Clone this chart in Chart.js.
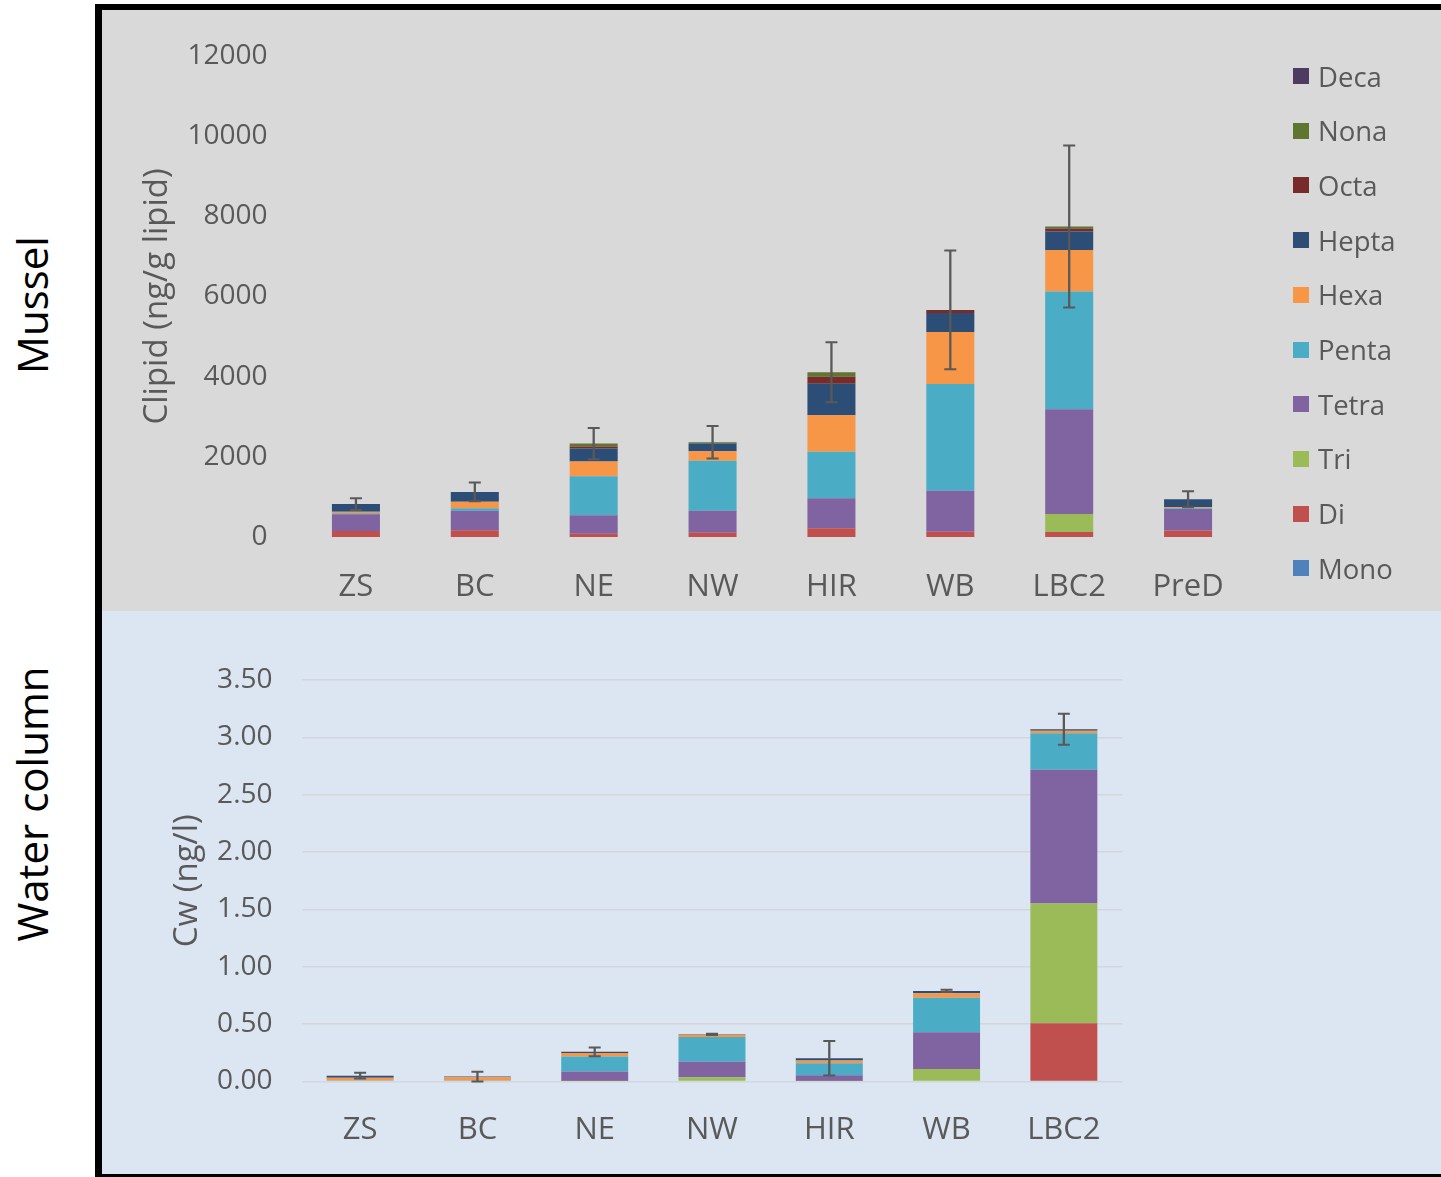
<!DOCTYPE html>
<html>
<head>
<meta charset="utf-8">
<title>PCB homologue profiles – mussel and water column</title>
<script src="https://cdn.jsdelivr.net/npm/chart.js@4.4.1/dist/chart.umd.min.js"></script>
<style>
  html, body { margin: 0; padding: 0; background: #ffffff; }
  body { width: 1441px; height: 1177px; position: relative; overflow: hidden; font-family: "Open Sans", sans-serif; }
  #frame { position: absolute; left: 95px; top: 4px; width: 1346px; height: 1173px; background: #000; }
  #panelTop { position: absolute; left: 102px; top: 10px; width: 1339px; height: 601px; background: #d9d9d9; }
  #panelBot { position: absolute; left: 102px; top: 611px; width: 1339px; height: 563px; background: #dce6f2; }
  canvas { position: absolute; left: 0; top: 0; }
  .side { position: absolute; font-size: 42px; color: #000; white-space: nowrap; transform: translate(-50%, -50%) rotate(-90deg); }
  #legend { position: absolute; left: 1293px; top: 0; }
  .lg { position: absolute; left: 0; height: 30px; display: flex; align-items: center; white-space: nowrap; font-size: 27.5px; color: #595959; }
  .lg span.sw { display: inline-block; width: 16px; height: 16px; margin-right: 9px; }
</style>
</head>
<body>
<div id="frame"></div>
<div id="panelTop"><canvas id="mussel" width="1339" height="601"></canvas></div>
<div id="panelBot"><canvas id="water" width="1339" height="563"></canvas></div>
<div class="side" style="left:31px; top:305px;">Mussel</div>
<div class="side" style="left:31px; top:804px;">Water column</div>
<div id="legend"></div>

<script>
// Homologue groups (stack order, bottom to top) and their colours
const homologues = ["Mono", "Di", "Tri", "Tetra", "Penta", "Hexa", "Hepta", "Octa", "Nona", "Deca"];
const homologueColors = ["#4F81BD", "#C0504D", "#9BBB59", "#8064A2", "#4BACC6", "#F79646", "#2C4D75", "#772C2A", "#5F7530", "#4D3B62"];

// Mussel: lipid-normalised concentration (ng/g lipid)
const musselSites = ["ZS", "BC", "NE", "NW", "HIR", "WB", "LBC2", "PreD"];
const musselMono  = [0, 0, 0, 0, 0, 0, 0, 0];
const musselDi    = [150, 167, 83, 107, 217, 132, 125, 160];
const musselTri   = [0, 0, 0, 0, 0, 0, 449, 0];
const musselTetra = [420, 490, 460, 549, 748, 1023, 2612, 539];
const musselPenta = [20, 60, 973, 1248, 1163, 2662, 2934, 15];
const musselHexa  = [40, 165, 365, 235, 908, 1297, 1040, 25];
const musselHepta = [190, 242, 325, 190, 788, 474, 457, 200];
const musselOcta  = [0, 0, 50, 0, 175, 75, 75, 0];
const musselNona  = [0, 0, 75, 35, 110, 0, 50, 0];
const musselDeca  = [0, 0, 0, 0, 0, 0, 0, 0];
const musselErr   = [145, 235, 390, 405, 750, 1480, 2020, 200];
const musselTicks = [0, 2000, 4000, 6000, 8000, 10000, 12000];

// Water column: dissolved concentration (ng/l)
const waterSites = ["ZS", "BC", "NE", "NW", "HIR", "WB", "LBC2"];
const waterMono  = [0, 0, 0, 0, 0, 0, 0];
const waterDi    = [0, 0, 0, 0, 0, 0, 0.507];
const waterTri   = [0, 0, 0.005, 0.038, 0.005, 0.108, 1.044];
const waterTetra = [0, 0, 0.083, 0.134, 0.05, 0.321, 1.166];
const waterPenta = [0.008, 0.008, 0.131, 0.216, 0.105, 0.30, 0.318];
const waterHexa  = [0.025, 0.03, 0.03, 0.02, 0.023, 0.041, 0.023];
const waterHepta = [0.018, 0.005, 0.01, 0.003, 0.02, 0.02, 0.012];
const waterOcta  = [0, 0, 0, 0, 0, 0, 0];
const waterNona  = [0, 0, 0, 0, 0, 0, 0];
const waterDeca  = [0, 0, 0, 0, 0, 0, 0];
const waterErr   = [0.025, 0.042, 0.038, 0.006, 0.15, 0.01, 0.135];
const waterTicks = [0, 0.5, 1.0, 1.5, 2.0, 2.5, 3.0, 3.5];

const FONT = "'Open Sans', sans-serif";
const GREY_TEXT = "#595959";

function buildDatasets(series) {
  return series.map((values, k) => ({
    label: homologues[k],
    data: values,
    backgroundColor: homologueColors[k],
    borderWidth: 0,
    stack: "total"
  }));
}

// Error bars on the stacked totals, drawn through the chart's own scales
const stackErrorBars = {
  id: "stackErrorBars",
  afterDatasetsDraw(chart, args, opts) {
    const errs = opts.errors || [];
    const { ctx, scales: { x, y } } = chart;
    const n = chart.data.labels.length;
    ctx.save();
    ctx.strokeStyle = "#595959";
    ctx.lineCap = "butt";
    for (let i = 0; i < n; i++) {
      let total = 0;
      chart.data.datasets.forEach(ds => { total += ds.data[i] || 0; });
      const e = errs[i] || 0;
      const cx = x.getPixelForValue(i);
      const yHi = y.getPixelForValue(total + e);
      const yLo = y.getPixelForValue(Math.max(total - e, 0));
      ctx.lineWidth = 2.3;
      ctx.beginPath();
      ctx.moveTo(cx, yHi); ctx.lineTo(cx, yLo);
      ctx.stroke();
      ctx.lineWidth = 2;
      ctx.beginPath();
      ctx.moveTo(cx - 6, yHi); ctx.lineTo(cx + 6, yHi);
      ctx.moveTo(cx - 6, yLo); ctx.lineTo(cx + 6, yLo);
      ctx.stroke();
    }
    ctx.restore();
  }
};

function makeChart(id, labels, series, errors, yMax, yStep, tickFmt, yTitle, geom) {
  return new Chart(document.getElementById(id), {
    type: "bar",
    data: { labels: labels, datasets: buildDatasets(series) },
    plugins: [stackErrorBars],
    options: {
      responsive: false,
      animation: false,
      devicePixelRatio: 1,
      layout: { padding: { left: 0, right: geom.right, top: geom.top, bottom: 0 } },
      datasets: { bar: { barPercentage: geom.barPct, categoryPercentage: 1 } },
      plugins: {
        legend: { display: false },
        tooltip: { enabled: false },
        stackErrorBars: { errors: errors }
      },
      scales: {
        x: {
          stacked: true,
          grid: { display: false },
          border: { display: false },
          ticks: { color: GREY_TEXT, font: { family: FONT, size: 31 }, padding: geom.xPad, maxRotation: 0, autoSkip: false },
          afterFit(s) { s.height = geom.xHeight; }
        },
        y: {
          stacked: true,
          min: 0, max: yMax,
          grid: { display: geom.grid, color: "#d3d6da", lineWidth: 1.6, drawTicks: false },
          border: { display: false },
          ticks: { stepSize: yStep, color: GREY_TEXT, font: { family: FONT, size: 28 }, padding: geom.yPad, callback: tickFmt },
          title: { display: true, text: yTitle, color: GREY_TEXT, font: { family: FONT, size: 33 }, padding: { top: geom.titlePad, bottom: 0 } },
          afterFit(s) { s.width = geom.yWidth; }
        }
      }
    }
  });
}

makeChart("mussel", musselSites,
  [musselMono, musselDi, musselTri, musselTetra, musselPenta, musselHexa, musselHepta, musselOcta, musselNona, musselDeca],
  musselErr, musselTicks[musselTicks.length - 1], musselTicks[1] - musselTicks[0],
  v => String(v), "Clipid (ng/g lipid)",
  { right: 193.5, top: 45, xHeight: 74, yWidth: 194.5, barPct: 0.404, xPad: 24, yPad: 29, titlePad: 36, grid: false });

makeChart("water", waterSites,
  [waterMono, waterDi, waterTri, waterTetra, waterPenta, waterHexa, waterHepta, waterOcta, waterNona, waterDeca],
  waterErr, waterTicks[waterTicks.length - 1], waterTicks[1] - waterTicks[0],
  v => Number(v).toFixed(2), "Cw (ng/l)",
  { right: 318.5, top: 69, xHeight: 92.5, yWidth: 199.5, barPct: 0.571, xPad: 22, yPad: 29, titlePad: 66, grid: true });

// Legend, listed top-down from the last homologue to the first
const legendBox = document.getElementById("legend");
homologues.slice().reverse().forEach((name, k) => {
  const color = homologueColors[homologues.length - 1 - k];
  const row = document.createElement("div");
  row.className = "lg";
  row.style.top = (61 + k * 54.7) + "px";
  row.innerHTML = '<span class="sw" style="background:' + color + '"></span>' + name;
  legendBox.appendChild(row);
});
</script>
</body>
</html>
